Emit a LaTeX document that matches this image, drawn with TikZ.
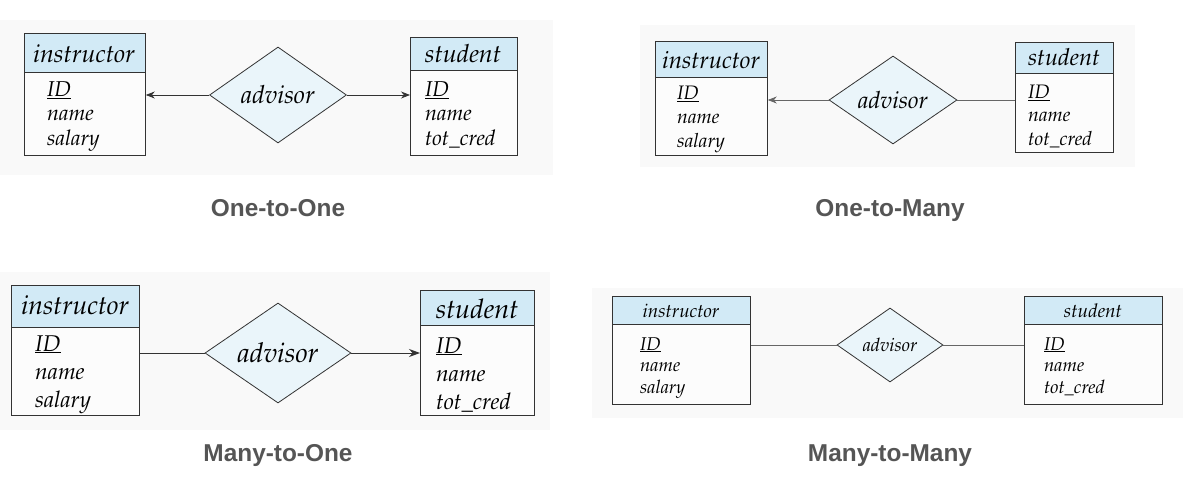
\documentclass[tikz,border=0pt]{standalone}
\usepackage[T1]{fontenc}
\usepackage{fontspec}
\usetikzlibrary{shapes.geometric,arrows.meta}
\newfontfamily\capfont{Liberation Sans}
% Palatino italic (URW Palladio, Type 1) for the E-R texts
\newcommand\palit[1]{\fontencoding{T1}\fontfamily{ppl}\fontshape{it}\fontsize{#1}{#1}\selectfont}
\definecolor{headblue}{HTML}{D2EAF6}
\definecolor{diafill}{HTML}{EAF5FA}
\definecolor{bodywhite}{HTML}{FCFCFC}
\definecolor{panelbg}{HTML}{F9F9F9}
\definecolor{capgray}{HTML}{555555}
\definecolor{edge}{HTML}{333333}
\tikzset{
  ebox/.style={draw=edge, line width=0.8pt, inner sep=0, anchor=north west},
  ehead/.style={ebox, fill=headblue},
  ebody/.style={ebox, fill=bodywhite},
  rel/.style={shape=diamond, draw=edge, line width=0.8pt, fill=diafill, inner sep=0},
  attr/.style={anchor=base west, inner sep=0},
  etitle/.style={anchor=base, inner sep=0},
  caption/.style={font=\capfont\bfseries\fontsize{24.4}{28}\selectfont, text=capgray, inner sep=0, anchor=base},
  link/.style={line width=0.8pt, draw=edge},
  glink/.style={line width=0.8pt, draw=black!60},
  tip/.style={-{Stealth[length=9pt,width=7pt]}},
  bigtip/.style={-{Stealth[length=11pt,width=8pt]}}
}
\begin{document}
\begin{tikzpicture}[x=1pt,y=-1pt]
\useasboundingbox (0,0) rectangle (1183,494);
\fill[white] (0,0) rectangle (1183,494);
% faint panel backgrounds
\fill[panelbg] (0,20) rectangle (553,175);
\fill[panelbg] (640,25) rectangle (1135,167);
\fill[panelbg] (0,272) rectangle (550,430);
\fill[panelbg] (592,288) rectangle (1183,418);

% ---------- One-to-One ----------
\node[ehead, minimum width=121, minimum height=39] (i1h) at (24,33) {};
\node[ebody, minimum width=121, minimum height=83] (i1b) at (24,72) {};
\node[etitle] (i1t) at (84,63) {\palit{25}instructor};
\node[attr] (i1a) at (47,97) {\palit{21.5}\underline{ID}};
\node[attr] (i1n) at (47,121) {\palit{21.5}name};
\node[attr] (i1s) at (47,146) {\palit{21.5}salary};
\node[ehead, minimum width=107, minimum height=33] (s1h) at (410,37) {};
\node[ebody, minimum width=107, minimum height=85] (s1b) at (410,70) {};
\node[etitle] (s1t) at (463,63) {\palit{25}student};
\node[attr] (s1a) at (425,97) {\palit{21.5}\underline{ID}};
\node[attr] (s1n) at (425,121) {\palit{21.5}name};
\node[attr] (s1c) at (425,146) {\palit{21.5}tot\_cred};
\node[rel, minimum width=137, minimum height=96, aspect=1.427] (d1) at (278,95) {\palit{25}advisor};
\draw[link,tip] (d1.west) -- (d1.west -| i1b.east);
\draw[link,tip] (d1.east) -- (d1.east -| s1b.west);
\node[caption] (c1) at (278,217) {One-to-One};

% ---------- One-to-Many ----------
\node[ehead, minimum width=112, minimum height=36] (i2h) at (655,41) {};
\node[ebody, minimum width=112, minimum height=78] (i2b) at (655,77) {};
\node[etitle] (i2t) at (711,69) {\palit{24}instructor};
\node[attr] (i2a) at (677,100) {\palit{19.5}\underline{ID}};
\node[attr] (i2n) at (677,124) {\palit{19.5}name};
\node[attr] (i2s) at (677,148) {\palit{19.5}salary};
\node[ehead, minimum width=98, minimum height=31] (s2h) at (1015,42) {};
\node[ebody, minimum width=98, minimum height=79] (s2b) at (1015,73) {};
\node[etitle] (s2t) at (1064,66) {\palit{23.5}student};
\node[attr] (s2a) at (1028,99) {\palit{19.5}\underline{ID}};
\node[attr] (s2n) at (1028,122) {\palit{19.5}name};
\node[attr] (s2c) at (1028,146) {\palit{19.5}tot\_cred};
\node[rel, minimum width=128, minimum height=88, aspect=1.4545] (d2) at (893,100) {\palit{23.7}advisor};
\draw[glink,tip] (d2.west) -- (d2.west -| i2b.east);
\draw[glink] (d2.east) -- (d2.east -| s2b.west);
\node[caption] (c2) at (890,217) {One-to-Many};

% ---------- Many-to-One ----------
\node[ehead, minimum width=128, minimum height=42] (i3h) at (11,285) {};
\node[ebody, minimum width=128, minimum height=88] (i3b) at (11,327) {};
\node[etitle] (i3t) at (75,314) {\palit{26.5}instructor};
\node[attr] (i3a) at (35,351) {\palit{22.8}\underline{ID}};
\node[attr] (i3n) at (35,379) {\palit{22.8}name};
\node[attr] (i3s) at (35,407) {\palit{22.8}salary};
\node[ehead, minimum width=114, minimum height=35] (s3h) at (420,290) {};
\node[ebody, minimum width=114, minimum height=90] (s3b) at (420,325) {};
\node[etitle] (s3t) at (477,318) {\palit{27}student};
\node[attr] (s3a) at (436,353) {\palit{22.8}\underline{ID}};
\node[attr] (s3n) at (436,381) {\palit{22.8}name};
\node[attr] (s3c) at (436,409) {\palit{22.8}tot\_cred};
\node[rel, minimum width=146, minimum height=100, aspect=1.46] (d3) at (278,353) {\palit{27.4}advisor};
\draw[link] (d3.west -| i3b.east) -- (d3.west);
\draw[link,bigtip] (d3.east) -- (d3.east -| s3b.west);
\node[caption] (c3) at (278,461) {Many-to-One};

% ---------- Many-to-Many ----------
\node[ehead, minimum width=138, minimum height=28] (i4h) at (612,296) {};
\node[ebody, minimum width=138, minimum height=80] (i4b) at (612,324) {};
\node[etitle] (i4t) at (681,317) {\palit{18.8}instructor};
\node[attr] (i4a) at (640,350) {\palit{18.5}\underline{ID}};
\node[attr] (i4n) at (640,371) {\palit{18.5}name};
\node[attr] (i4s) at (640,393) {\palit{18.5}salary};
\node[ehead, minimum width=138, minimum height=28] (s4h) at (1024,296) {};
\node[ebody, minimum width=138, minimum height=80] (s4b) at (1024,324) {};
\node[etitle] (s4t) at (1093,317) {\palit{19}student};
\node[attr] (s4a) at (1044,350) {\palit{18.5}\underline{ID}};
\node[attr] (s4n) at (1044,371) {\palit{18.5}name};
\node[attr] (s4c) at (1044,393) {\palit{18.5}tot\_cred};
\node[rel, minimum width=106, minimum height=74, aspect=1.432] (d4) at (890,345) {\palit{18.5}advisor};
\draw[glink] (d4.west -| i4b.east) -- (d4.west);
\draw[glink] (d4.east) -- (d4.east -| s4b.west);
\node[caption] (c4) at (890,461) {Many-to-Many};
\end{tikzpicture}
\end{document}
